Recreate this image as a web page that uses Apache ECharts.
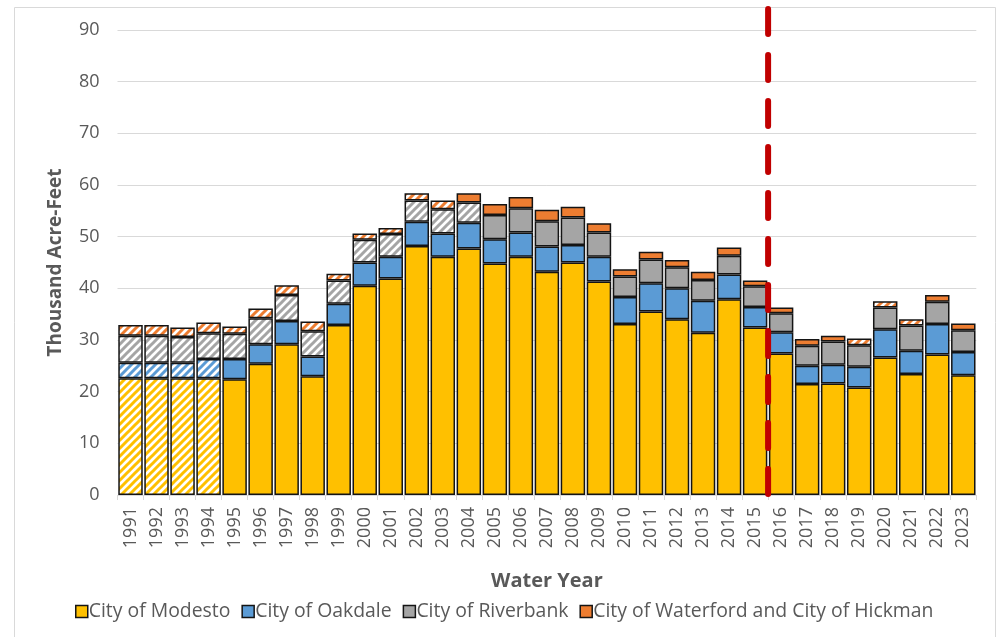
<!DOCTYPE html>
<html>
<head>
<meta charset="utf-8">
<script src="https://cdn.jsdelivr.net/npm/echarts@6/dist/echarts.min.js"></script>
<style>
  html, body { margin: 0; padding: 0; background: #fff; }
  #chart { width: 997px; height: 637px; }
</style>
</head>
<body>
<div id="chart"></div>
<script>
// Water years on the category axis
const years = ['1991','1992','1993','1994','1995','1996','1997','1998','1999','2000',
  '2001','2002','2003','2004','2005','2006','2007','2008','2009','2010','2011','2012',
  '2013','2014','2015','2016','2017','2018','2019','2020','2021','2022','2023'];

// Annual use by supplier, thousand acre-feet
const modesto = [22.6,22.6,22.6,22.6,22.4,25.4,29.2,23.0,32.9,40.5,41.9,48.2,46.1,47.7,44.8,46.1,43.2,45.0,41.3,33.1,35.5,34.0,31.4,37.9,32.4,27.4,21.5,21.6,20.8,26.6,23.4,27.2,23.2];
const oakdale = [3.0,3.0,3.0,3.7,3.9,3.8,4.5,3.8,4.1,4.5,4.2,4.7,4.5,5.0,4.7,4.7,4.9,3.4,4.8,5.2,5.5,6.0,6.2,4.8,4.0,4.1,3.5,3.6,4.0,5.5,4.5,5.9,4.5];
const riverbank = [5.2,5.2,5.0,5.0,4.9,5.0,5.0,4.9,4.5,4.4,4.4,4.1,4.7,3.9,4.7,4.7,4.9,5.3,4.7,4.0,4.6,4.1,4.0,3.6,4.0,3.7,3.9,4.5,4.2,4.2,4.9,4.3,4.2];
const waterfordHickman = [2.1,2.1,1.8,2.1,1.4,1.9,1.9,1.9,1.3,1.2,1.2,1.4,1.7,1.8,2.1,2.2,2.2,2.1,1.8,1.4,1.5,1.4,1.6,1.6,1.1,1.1,1.3,1.1,1.3,1.2,1.2,1.3,1.3];

// Years whose values are estimated (drawn hatched)
const modestoEstimated = ['1991','1992','1993','1994'];
const oakdaleEstimated = ['1991','1992','1993','1994'];
const riverbankEstimated = ['1991','1992','1993','1994','1995','1996','1997','1998','1999','2000','2001','2002','2003','2004'];
const waterfordEstimated = ['1991','1992','1993','1994','1995','1996','1997','1998','1999','2000','2001','2002','2003','2019','2020','2021'];

// Year after which the dashed divider is drawn
const dividerAfter = '2015';

const yTicks = { min: 0, max: 90, interval: 10 };

const TEXT = '#595959';
const FONT = '"Open Sans", "Noto Sans", sans-serif';

function hatch(color) {
  const c = document.createElement('canvas');
  c.width = 8; c.height = 8;
  const g = c.getContext('2d');
  g.fillStyle = '#ffffff';
  g.fillRect(0, 0, 8, 8);
  g.strokeStyle = color;
  g.lineWidth = 3;
  g.beginPath();
  g.moveTo(-2, 2); g.lineTo(2, -2);
  g.moveTo(0, 8); g.lineTo(8, 0);
  g.moveTo(6, 10); g.lineTo(10, 6);
  g.stroke();
  return { image: c, repeat: 'repeat' };
}

function makeSeries(name, values, color, estimated) {
  const pat = hatch(color);
  return {
    name: name,
    type: 'bar',
    stack: 'total',
    barCategoryGap: '6%',
    itemStyle: { color: color, borderColor: '#141414', borderWidth: 1.5 },
    emphasis: { disabled: true },
    data: values.map((v, i) => estimated.includes(years[i])
      ? { value: v, itemStyle: { color: pat } }
      : v)
  };
}

const chart = echarts.init(document.getElementById('chart'), null, { renderer: 'canvas' });

chart.setOption({
  animation: false,
  textStyle: { fontFamily: FONT },
  grid: { left: 117.5, right: 20.7, top: 30, bottom: 142 },
  legend: {
    left: 70, top: 597,
    itemWidth: 12, itemHeight: 12, itemGap: 11,
    textStyle: { color: TEXT, fontSize: 19.4, fontFamily: FONT, padding: [0, 0, 0, -4] },
    data: ['City of Modesto', 'City of Oakdale', 'City of Riverbank', 'City of Waterford and City of Hickman'].map(n => ({
      name: n, icon: 'rect', itemStyle: { borderColor: '#141414', borderWidth: 1.5 }
    }))
  },
  xAxis: {
    type: 'category',
    data: years,
    name: 'Water Year',
    nameLocation: 'middle',
    nameGap: 76,
    nameTextStyle: { color: TEXT, fontSize: 20, fontWeight: 'bold', fontFamily: FONT },
    axisLine: { lineStyle: { color: '#D9D9D9' } },
    axisTick: { show: true, length: 5, lineStyle: { color: '#D9D9D9' } },
    axisLabel: { rotate: 90, color: TEXT, fontSize: 18, margin: 12, fontFamily: FONT }
  },
  yAxis: {
    type: 'value',
    min: yTicks.min, max: yTicks.max, interval: yTicks.interval,
    name: 'Thousand Acre-Feet',
    nameLocation: 'middle',
    nameGap: 52,
    nameTextStyle: { color: TEXT, fontSize: 19, fontWeight: 'bold', fontFamily: FONT },
    axisLine: { show: false },
    axisTick: { show: false },
    splitLine: { lineStyle: { color: '#D9D9D9', width: 1 } },
    axisLabel: { color: TEXT, fontSize: 18, margin: 18, fontFamily: FONT }
  },
  series: [
    makeSeries('City of Modesto', modesto, '#FFC000', modestoEstimated),
    makeSeries('City of Oakdale', oakdale, '#5B9BD5', oakdaleEstimated),
    makeSeries('City of Riverbank', riverbank, '#A5A5A5', riverbankEstimated),
    makeSeries('City of Waterford and City of Hickman', waterfordHickman, '#ED7D31', waterfordEstimated)
  ]
});

// Dashed divider between two water years, plus the chart frame
const idx = years.indexOf(dividerAfter);
const xa = chart.convertToPixel({ xAxisIndex: 0 }, years[idx]);
const xb = chart.convertToPixel({ xAxisIndex: 0 }, years[idx + 1]);
const xDiv = (xa + xb) / 2;
const yBase = chart.convertToPixel({ yAxisIndex: 0 }, 0);

chart.setOption({
  graphic: [
    {
      type: 'rect', silent: true, z: 0,
      shape: { x: 14.5, y: 7.5, width: 981, height: 640 },
      style: { fill: null, stroke: '#D9D9D9', lineWidth: 1 }
    },
    {
      type: 'line', silent: true, z: 100,
      shape: { x1: xDiv, y1: 9, x2: xDiv, y2: yBase },
      style: { stroke: '#C00000', lineWidth: 6, lineDash: [25, 21], lineCap: 'round' }
    }
  ]
});
</script>
</body>
</html>
